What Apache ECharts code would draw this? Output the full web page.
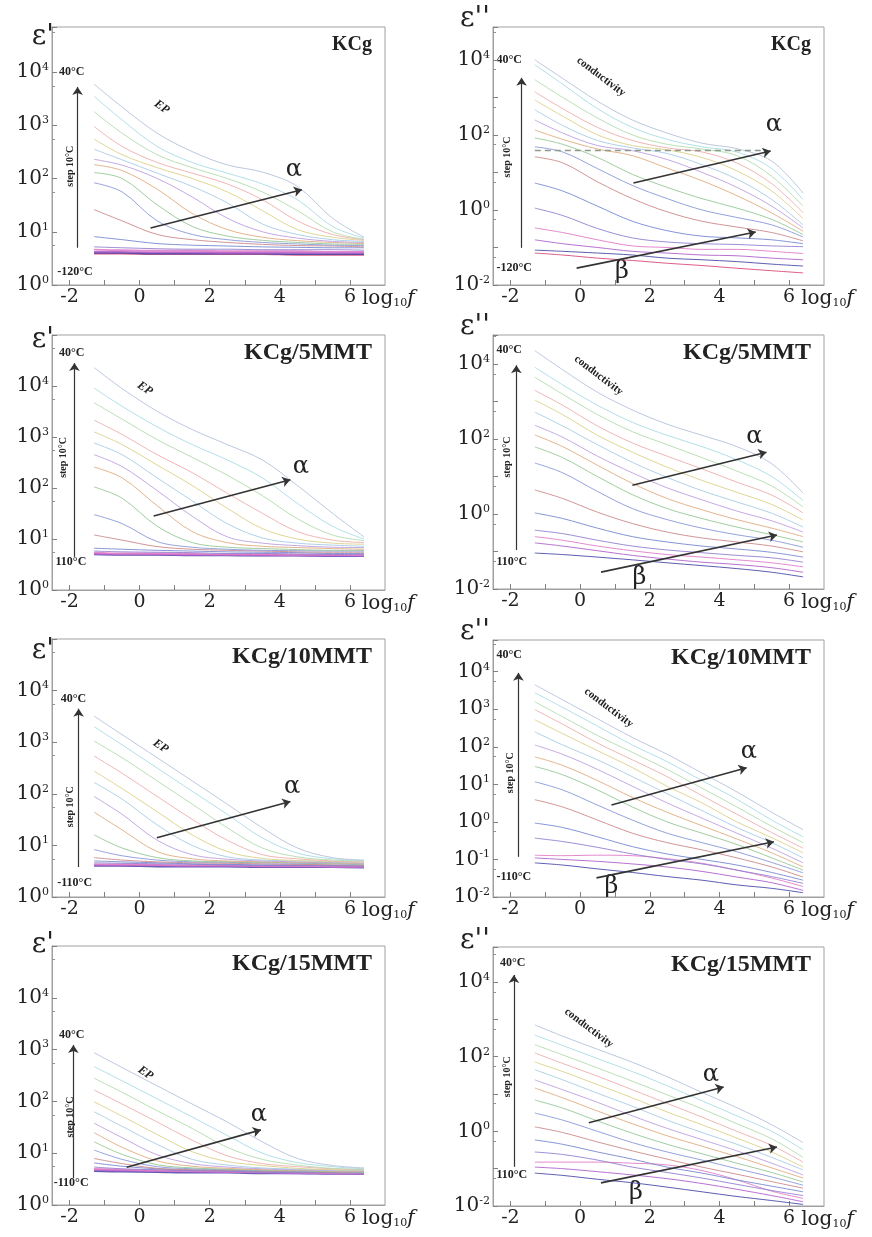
<!DOCTYPE html>
<html><head><meta charset="utf-8">
<script src="https://cdn.jsdelivr.net/npm/echarts@6/dist/echarts.min.js"></script>
<style>html,body{margin:0;padding:0;background:#fff}#c{width:872px;height:1237px}</style>
</head><body><div id="c"></div>
<script>
// ---------- DATA ----------
const logF = [-1.3, -0.5, 0.5, 1.5, 2.5, 3.5, 4.5, 5.5, 6.4];
const tempsAll = [-120, -110, -100, -90, -80, -70, -60, -50, -40, -30, -20, -10, 0, 10, 20, 30, 40];
const temps110 = [-110, -100, -90, -80, -70, -60, -50, -40, -30, -20, -10, 0, 10, 20, 30, 40];
const xTickLabels = [-2, 0, 2, 4, 6];
const xTickMarks = [-2, -1, 0, 1, 2, 3, 4, 5, 6];
const panelTitles = ['KCg', 'KCg', 'KCg/5MMT', 'KCg/5MMT', 'KCg/10MMT', 'KCg/10MMT', 'KCg/15MMT', 'KCg/15MMT'];
const panelSymbols = ["ε'", "ε''", "ε'", "ε''", "ε'", "ε''", "ε'", "ε''"];

// rows: lowest temperature first
const kcgReal = [
 [3.9,3.9,3.8,3.8,3.8,3.8,3.7,3.7,3.7],
 [4.0,4.0,3.9,3.9,3.9,3.9,3.8,3.8,3.8],
 [4.2,4.2,4.1,4.1,4.0,4.0,4.0,4.0,4.0],
 [4.6,4.5,4.4,4.4,4.3,4.3,4.3,4.2,4.2],
 [5.2,5.0,4.8,4.7,4.7,4.6,4.6,4.6,4.5],
 [8.1,7.1,6.0,5.6,5.4,5.2,5.1,5.0,5.0],
 [26,16,8.9,7.1,6.3,5.8,5.5,5.4,5.2],
 [83,56,16,8.9,7.1,6.3,5.9,5.6,5.5],
 [129,100,32,12.6,8.3,6.9,6.3,5.9,5.8],
 [182,141,63,22,11,7.9,6.8,6.3,6.0],
 [229,178,100,45,18,10,7.6,6.6,6.3],
 [355,224,126,71,35,14,8.9,7.1,6.6],
 [550,280,160,100,56,25,11,7.9,6.9],
 [950,400,200,126,79,40,16,8.9,7.1],
 [1800,710,280,160,100,56,25,10,7.2],
 [3500,1260,400,200,126,79,40,12.6,7.6],
 [5900,2200,710,320,180,132,71,18,7.9]
];
const kcgLoss = [
 [0.071,0.063,0.052,0.045,0.038,0.033,0.028,0.024,0.021],
 [0.085,0.079,0.071,0.063,0.052,0.047,0.042,0.036,0.032],
 [0.16,0.126,0.1,0.079,0.071,0.063,0.06,0.052,0.047],
 [0.33,0.25,0.16,0.11,0.1,0.089,0.089,0.079,0.069],
 [1.12,0.71,0.32,0.18,0.14,0.126,0.12,0.11,0.105],
 [5.2,3.2,1.26,0.5,0.28,0.2,0.18,0.16,0.126],
 [26,18,5.6,2.0,0.89,0.5,0.35,0.25,0.15],
 [48,35,12.6,4.5,2.0,1.0,0.63,0.4,0.19],
 [83,56,25,8.9,4.0,2.0,1.12,0.56,0.22],
 [135,76,42,28,13,6.0,2.4,0.83,0.27],
 [250,112,52,38,22,10,4.0,1.26,0.33],
 [470,178,71,45,32,16,6.6,1.9,0.4],
 [850,316,100,52,40,25,11,3.2,0.59],
 [1400,500,158,71,45,35,17.8,5.0,0.85],
 [2950,1000,282,100,56,42,28,7.9,1.26],
 [7400,2240,500,158,76,48,35,12.6,1.9],
 [10000,3200,790,250,112,60,43,20,2.8]
];
const mmt5Real = [
 [5.0,4.9,4.9,4.8,4.8,4.7,4.7,4.6,4.6],
 [5.1,5.0,5.0,4.9,4.9,4.8,4.8,4.7,4.7],
 [5.4,5.2,5.2,5.1,5.0,5.0,4.9,4.9,4.8],
 [5.8,5.6,5.5,5.4,5.2,5.2,5.1,5.0,5.0],
 [6.6,6.3,6.0,5.8,5.6,5.5,5.4,5.2,5.2],
 [12,9.5,7.1,6.3,6.0,5.8,5.6,5.5,5.5],
 [30,20,8.9,6.9,6.3,6.0,5.9,5.8,5.8],
 [105,63,17.8,8.5,6.9,6.5,6.2,6.0,6.0],
 [257,158,45,14,8.5,7.2,6.8,6.5,6.3],
 [450,263,89,28,11,8.3,7.4,6.9,6.8],
 [760,450,158,56,20,10.5,8.3,7.6,7.2],
 [1260,710,282,112,40,16,10,8.3,7.9],
 [2140,1120,450,200,79,32,14,9.5,8.5],
 [4700,2240,890,400,178,71,25,12,9.3],
 [9100,4000,1580,710,355,158,50,17.8,10],
 [23000,8900,3200,1400,710,355,112,32,11]
];
const mmt5Loss = [
 [0.091,0.083,0.071,0.06,0.05,0.042,0.035,0.028,0.021],
 [0.17,0.14,0.105,0.079,0.063,0.052,0.045,0.037,0.028],
 [0.25,0.2,0.14,0.105,0.083,0.071,0.06,0.05,0.039],
 [0.37,0.3,0.2,0.14,0.11,0.093,0.079,0.068,0.052],
 [1.07,0.76,0.42,0.25,0.18,0.14,0.117,0.095,0.071],
 [4.4,2.6,1.12,0.56,0.33,0.23,0.18,0.14,0.098],
 [23,12.6,4.0,1.4,0.71,0.42,0.28,0.2,0.13],
 [62,32,10,3.3,1.4,0.76,0.45,0.28,0.18],
 [129,63,20,6.6,2.6,1.3,0.71,0.42,0.25],
 [234,112,35,12.6,5.0,2.4,1.2,0.66,0.33],
 [525,224,71,24,9.5,4.2,2.1,1.05,0.45],
 [1100,450,126,45,17.8,7.9,3.8,1.8,0.69],
 [2000,800,224,79,35,16,7.1,3.2,1.07],
 [4500,1580,450,158,71,32,14,5.6,1.55],
 [8300,2800,800,280,126,63,28,10,2.3],
 [23000,7100,1780,600,250,126,63,22,3.6]
];
const mmt10Real = [
 [4.0,4.0,3.9,3.9,3.9,3.8,3.8,3.8,3.7],
 [4.2,4.1,4.1,4.0,4.0,3.9,3.9,3.9,3.8],
 [4.3,4.3,4.2,4.1,4.1,4.0,4.0,3.9,3.9],
 [4.6,4.5,4.4,4.3,4.2,4.1,4.1,4.0,4.0],
 [5.0,4.8,4.6,4.4,4.3,4.2,4.2,4.1,4.0],
 [5.8,5.2,4.8,4.6,4.5,4.4,4.3,4.2,4.1],
 [8.3,6.3,5.2,4.8,4.7,4.6,4.5,4.4,4.2],
 [16,8.9,5.8,5.0,4.8,4.7,4.6,4.5,4.3],
 [44,20,7.6,5.5,5.0,4.8,4.7,4.6,4.4],
 [89,40,12.6,6.6,5.4,5.0,4.8,4.7,4.5],
 [166,79,25,10,6.0,5.2,5.0,4.8,4.6],
 [275,126,45,16,7.6,5.6,5.1,4.9,4.7],
 [540,250,89,32,12.6,6.6,5.5,5.0,4.8],
 [1050,500,178,63,22,8.9,6.0,5.2,5.0],
 [2000,890,316,112,40,14,7.1,5.5,5.1],
 [3200,1400,500,178,63,22,8.9,5.8,5.2]
];
const mmt10Loss = [
 [0.081,0.071,0.056,0.045,0.035,0.028,0.021,0.017,0.013],
 [0.11,0.1,0.089,0.076,0.063,0.048,0.034,0.024,0.015],
 [0.13,0.126,0.13,0.126,0.105,0.079,0.052,0.032,0.019],
 [0.37,0.3,0.21,0.14,0.1,0.076,0.052,0.035,0.023],
 [0.93,0.71,0.4,0.22,0.14,0.1,0.071,0.045,0.028],
 [3.9,2.5,1.12,0.5,0.28,0.18,0.11,0.063,0.034],
 [11.7,7.1,2.8,1.12,0.5,0.28,0.16,0.083,0.044],
 [30,18,7.1,2.5,1.0,0.5,0.25,0.11,0.052],
 [54,32,12.6,4.5,1.8,0.79,0.35,0.15,0.063],
 [112,63,25,8.9,3.2,1.26,0.5,0.2,0.081],
 [250,112,45,16,5.6,2.0,0.71,0.28,0.11],
 [525,224,79,28,8.9,3.2,1.0,0.38,0.15],
 [980,400,126,45,16,5.0,1.6,0.52,0.2],
 [1580,630,200,71,25,7.9,2.5,0.76,0.28],
 [2750,1120,355,112,40,12.6,4.0,1.12,0.4],
 [4500,1780,560,178,63,20,6.3,1.8,0.62]
];
const mmt15Real = [
 [4.5,4.4,4.3,4.2,4.2,4.1,4.1,4.0,4.0],
 [4.7,4.6,4.5,4.4,4.3,4.2,4.1,4.1,4.0],
 [5.0,4.8,4.6,4.5,4.4,4.3,4.2,4.1,4.1],
 [5.4,5.0,4.8,4.6,4.5,4.3,4.2,4.2,4.1],
 [6.5,5.6,5.0,4.7,4.6,4.4,4.3,4.2,4.2],
 [7.9,6.3,5.1,4.8,4.7,4.5,4.4,4.3,4.2],
 [11.5,7.6,5.5,5.0,4.8,4.6,4.5,4.4,4.3],
 [16.6,9.5,6.0,5.2,4.9,4.7,4.6,4.4,4.3],
 [25,13,7.1,5.6,5.1,4.8,4.7,4.5,4.4],
 [38,20,9.3,6.3,5.4,5.0,4.8,4.6,4.5],
 [63,33,14.8,7.6,5.9,5.2,4.9,4.7,4.6],
 [98,52,23,10.7,6.9,5.8,5.1,4.8,4.7],
 [166,89,40,17.8,8.9,6.3,5.5,5.0,4.8],
 [280,150,66,30,13,7.6,5.9,5.1,4.9],
 [470,250,112,50,22,10,6.6,5.5,5.0],
 [870,450,200,89,40,16.6,7.9,5.8,5.2]
];
const mmt15Loss = [
 [0.076,0.066,0.052,0.042,0.032,0.024,0.018,0.014,0.011],
 [0.11,0.1,0.083,0.068,0.054,0.04,0.028,0.019,0.013],
 [0.15,0.15,0.15,0.14,0.126,0.089,0.05,0.025,0.016],
 [0.28,0.24,0.17,0.11,0.079,0.056,0.038,0.026,0.019],
 [0.59,0.45,0.28,0.18,0.11,0.076,0.05,0.034,0.024],
 [1.32,0.93,0.52,0.3,0.18,0.11,0.071,0.045,0.03],
 [3.1,2.0,1.0,0.5,0.28,0.17,0.1,0.06,0.036],
 [6.9,4.2,1.9,0.89,0.45,0.25,0.14,0.079,0.044],
 [14.5,7.9,3.5,1.6,0.76,0.4,0.21,0.105,0.056],
 [24,13,6.0,2.6,1.2,0.6,0.3,0.14,0.068],
 [45,24,10.5,4.7,2.0,0.93,0.45,0.2,0.093],
 [72,40,17.8,7.9,3.3,1.5,0.66,0.28,0.11],
 [126,66,30,13,5.6,2.4,1.0,0.42,0.15],
 [210,112,50,22,9.5,4.0,1.6,0.63,0.2],
 [380,200,89,40,16.6,6.6,2.6,1.0,0.32],
 [710,355,158,71,29,11,4.3,1.5,0.5]
];
const panelData = [kcgReal, kcgLoss, mmt5Real, mmt5Loss, mmt10Real, mmt10Loss, mmt15Real, mmt15Loss];
const panelTemps = [tempsAll, tempsAll, temps110, temps110, temps110, temps110, temps110, temps110];

// ---------- LAYOUT / STYLE ----------
const curveColors = ['#d84a78','#4a4aa8','#b060cc','#e07cc8','#9480d0','#7888d0','#cc8a8a','#8a98d8','#96c896','#e0ac80','#bca0e0','#a6cce6','#dcd08a','#eeaeae','#b2dcac','#a8dce6','#b4c2da'];
const SERIF = 'DejaVu Serif';
const TSERIF = 'Liberation Serif';
const layout = [
 {g:[52,27,333,258], yMin:1, yMax:70000, every:1, symDy:10, tSize:20, real:true,
  ann:{hi:[-2.3,4.0,'40°C'], lo:[-2.35,0.25,'-120°C'], v:[-1.77,0.7,3.72], step:[-1.97,2.23], diag:[0.63,3.34,'EP'], alpha:[4.4,2.17], aA:[0.31,1.07,4.63,1.79]}},
 {g:[493,27,331,258], yMin:0.01, yMax:75000, every:2, symDy:-8, tSize:20,
  ann:{hi:[-2.4,4.0,'40°C'], lo:[-2.4,-1.55,'-120°C'], v:[-1.68,-1.01,3.52], step:[-2.1,1.41], diag:[0.6,3.55,'conductivity'], alpha:[5.56,2.27], aA:[1.53,0.72,5.47,1.57], bA:[-0.1,-1.55,5.04,-0.59], beta:[1.2,-1.65], dash:[-1.3,5.3,1.6]}},
 {g:[52,335,333,255], yMin:1, yMax:100000, every:1, symDy:5, tSize:24, real:true,
  ann:{hi:[-2.3,4.65,'40°C'], lo:[-2.4,0.55,'110°C'], v:[-1.86,0.65,4.45], step:[-2.17,2.6], diag:[0.15,3.95,'EP'], alpha:[4.6,2.41], aA:[0.4,1.45,4.3,2.16]}},
 {g:[493,335,331,254], yMin:0.01, yMax:60000, every:2, symDy:-8, tSize:24,
  ann:{hi:[-2.4,4.37,'40°C'], lo:[-2.4,-1.28,'110°C'], v:[-1.83,-0.96,3.97], step:[-2.1,1.52], diag:[0.53,3.7,'conductivity'], alpha:[5.0,2.05], aA:[1.5,0.77,5.35,1.65], bA:[0.6,-1.55,5.65,-0.56], beta:[1.7,-1.7]}},
 {g:[52,639,333,258], yMin:1, yMax:100000, every:1, symDy:12, tSize:24, real:true,
  ann:{hi:[-2.25,3.84,'40°C'], lo:[-2.35,0.27,'-110°C'], v:[-1.74,0.58,3.65], step:[-1.97,1.75], diag:[0.6,2.92,'EP'], alpha:[4.35,2.14], aA:[0.49,1.15,4.3,1.85]}},
 {g:[493,640,331,257], yMin:0.01, yMax:70000, every:1, symDy:-8, tSize:24,
  ann:{hi:[-2.4,4.45,'40°C'], lo:[-2.4,-1.47,'-110°C'], v:[-1.77,-0.93,3.97], step:[-2.0,1.31], diag:[0.82,3.04,'conductivity'], alpha:[4.84,1.87], aA:[0.9,0.45,4.78,1.44], bA:[0.47,-1.49,5.56,-0.53], beta:[0.9,-1.73]}},
 {g:[52,946,333,259], yMin:1, yMax:100000, every:1, symDy:-1, tSize:24, real:true,
  ann:{hi:[-2.3,3.29,'40°C'], lo:[-2.45,0.43,'-110°C'], v:[-1.89,0.52,3.09], step:[-1.97,1.7], diag:[0.17,2.55,'EP'], alpha:[3.4,1.74], aA:[-0.37,0.73,3.46,1.45]}},
 {g:[493,947,331,259], yMin:0.01, yMax:87000, every:2, symDy:-6, tSize:24,
  ann:{hi:[-2.3,4.51,'40°C'], lo:[-2.4,-1.17,'110°C'], v:[-1.9,-0.95,4.19], step:[-2.1,1.46], diag:[0.25,2.77,'conductivity'], alpha:[3.75,1.51], aA:[0.25,0.23,4.12,1.19], bA:[0.6,-1.38,5.65,-0.42], beta:[1.6,-1.65]}}
];

function yFormatter(every) {
  return function (v) {
    const l = Math.log10(v), e = Math.round(l);
    if (Math.abs(l - e) > 0.01 || e > 4 || e % every !== 0) return '';
    return '10{s|' + e + '}';
  };
}

const P = (ly) => Math.pow(10, ly);
const grids = [], xAxes = [], yAxes = [], series = [];
panelData.forEach((rows, i) => {
  const L = layout[i], A = L.ann;
  grids.push({left: L.g[0], top: L.g[1], width: L.g[2], height: L.g[3], show: true, borderColor: '#a0a0a0', borderWidth: 1});
  xAxes.push({type: 'value', gridIndex: i, min: -2.5, max: 7,
    axisLine: {show: true, onZero: false, lineStyle: {color: '#a0a0a0'}},
    axisTick: {show: true, inside: true, length: 5, customValues: xTickMarks, lineStyle: {color: '#808080'}},
    axisLabel: {customValues: xTickLabels, fontFamily: SERIF, fontSize: 19, color: '#222', margin: 3},
    splitLine: {show: false}});
  yAxes.push({type: 'log', logBase: 10, gridIndex: i, min: L.yMin, max: L.yMax,
    axisLine: {show: true, onZero: false, lineStyle: {color: '#a0a0a0'}},
    axisTick: {show: true, inside: true, length: 5, lineStyle: {color: '#808080'}},
    minorTick: {show: true, splitNumber: 2, length: 3, lineStyle: {color: '#909090'}},
    axisLabel: {formatter: yFormatter(L.every), fontFamily: SERIF, fontSize: 20, color: '#222', margin: 3,
      rich: {s: {fontFamily: SERIF, fontSize: 11, color: '#222', padding: [0, 0, 10, 0]}}},
    splitLine: {show: false}});
  rows.forEach((row, k) => {
    const t = panelTemps[i][k];
    const low = L.real && t <= -90;
    series.push({type: 'line', name: panelTitles[i] + ' ' + t + '°C', xAxisIndex: i, yAxisIndex: i,
      data: logF.map((x, j) => [x, row[j]]), smooth: 0.35, symbol: 'none', silent: true,
      lineStyle: {width: low ? 1.8 : 1, color: curveColors[tempsAll.indexOf(t)], opacity: 0.9}, z: 2});
  });
  const ml = [];
  ml.push([{coord: [A.v[0], P(A.v[1])], lineStyle: {width: 1.2}}, {coord: [A.v[0], P(A.v[2])]}]);
  ml.push([{coord: [A.aA[0], P(A.aA[1])]}, {coord: [A.aA[2], P(A.aA[3])]}]);
  if (A.bA) ml.push([{coord: [A.bA[0], P(A.bA[1])]}, {coord: [A.bA[2], P(A.bA[3])]}]);
  if (A.dash) ml.push([{coord: [A.dash[0], P(A.dash[2])], symbol: 'none', lineStyle: {type: [6, 4], color: '#8c9a8c', width: 1.3}},
                       {coord: [A.dash[1], P(A.dash[2])], symbol: 'none'}]);
  series.push({type: 'line', xAxisIndex: i, yAxisIndex: i, data: [], z: 5, silent: true,
    markLine: {silent: true, animation: false, symbol: ['none', 'arrow'], symbolSize: 8,
      label: {show: false}, lineStyle: {color: '#333', width: 1.6, type: 'solid'}, data: ml}});
});

const chart = echarts.init(document.getElementById('c'));
chart.setOption({animation: false, backgroundColor: '#fff', grid: grids, xAxis: xAxes, yAxis: yAxes, series: series});

const gfx = [];
layout.forEach((L, i) => {
  const A = L.ann;
  const px = (x, ly) => chart.convertToPixel({gridIndex: i}, [x, P(ly)]);
  const left = L.g[0], top = L.g[1], right = L.g[0] + L.g[2], bottom = L.g[1] + L.g[3];
  const txt = (pos, text, font, opts) => gfx.push(Object.assign({type: 'text', x: pos[0], y: pos[1], silent: true,
    style: Object.assign({text: text, font: font, fill: '#222', align: 'center', verticalAlign: 'middle'}, opts && opts.style || {})},
    opts && opts.rot ? {rotation: opts.rot} : {}));
  txt([i % 2 === 0 ? left + 2 : left - 3, top + L.symDy], panelSymbols[i], '28px ' + SERIF, {style: {align: 'right'}});
  txt([right - 13, top + 18], panelTitles[i], 'bold ' + L.tSize + 'px ' + TSERIF, {style: {align: 'right'}});
  const p6 = px(6, 0);
  gfx.push({type: 'text', x: p6[0] + 12, y: bottom + 14, silent: true,
    style: {text: 'log{sub|10}{it|f}', font: '20px ' + SERIF, fill: '#222', align: 'left', verticalAlign: 'middle',
      rich: {sub: {fontFamily: SERIF, fontSize: 11, fill: '#222', padding: [9, 0, 0, 0]},
             it: {fontFamily: SERIF, fontSize: 20, fontStyle: 'italic', fill: '#222'}}}});
  txt(px(A.hi[0], A.hi[1]), A.hi[2], 'bold 12px ' + TSERIF, {style: {align: 'left'}});
  txt(px(A.lo[0], A.lo[1]), A.lo[2], 'bold 12px ' + TSERIF, {style: {align: 'left'}});
  txt(px(A.step[0], A.step[1]), 'step 10°C', 'bold 10px ' + TSERIF, {rot: Math.PI / 2});
  const isEP = A.diag[2] === 'EP';
  txt(px(A.diag[0], A.diag[1]), A.diag[2], (isEP ? 'bold italic 12px ' : 'bold 11px ') + TSERIF, {rot: isEP ? -0.6 : -0.65});
  txt(px(A.alpha[0], A.alpha[1]), 'α', '24px ' + SERIF);
  if (A.beta) txt(px(A.beta[0], A.beta[1]), 'β', '24px ' + SERIF);
});
chart.setOption({graphic: gfx});
</script>
</body></html>
